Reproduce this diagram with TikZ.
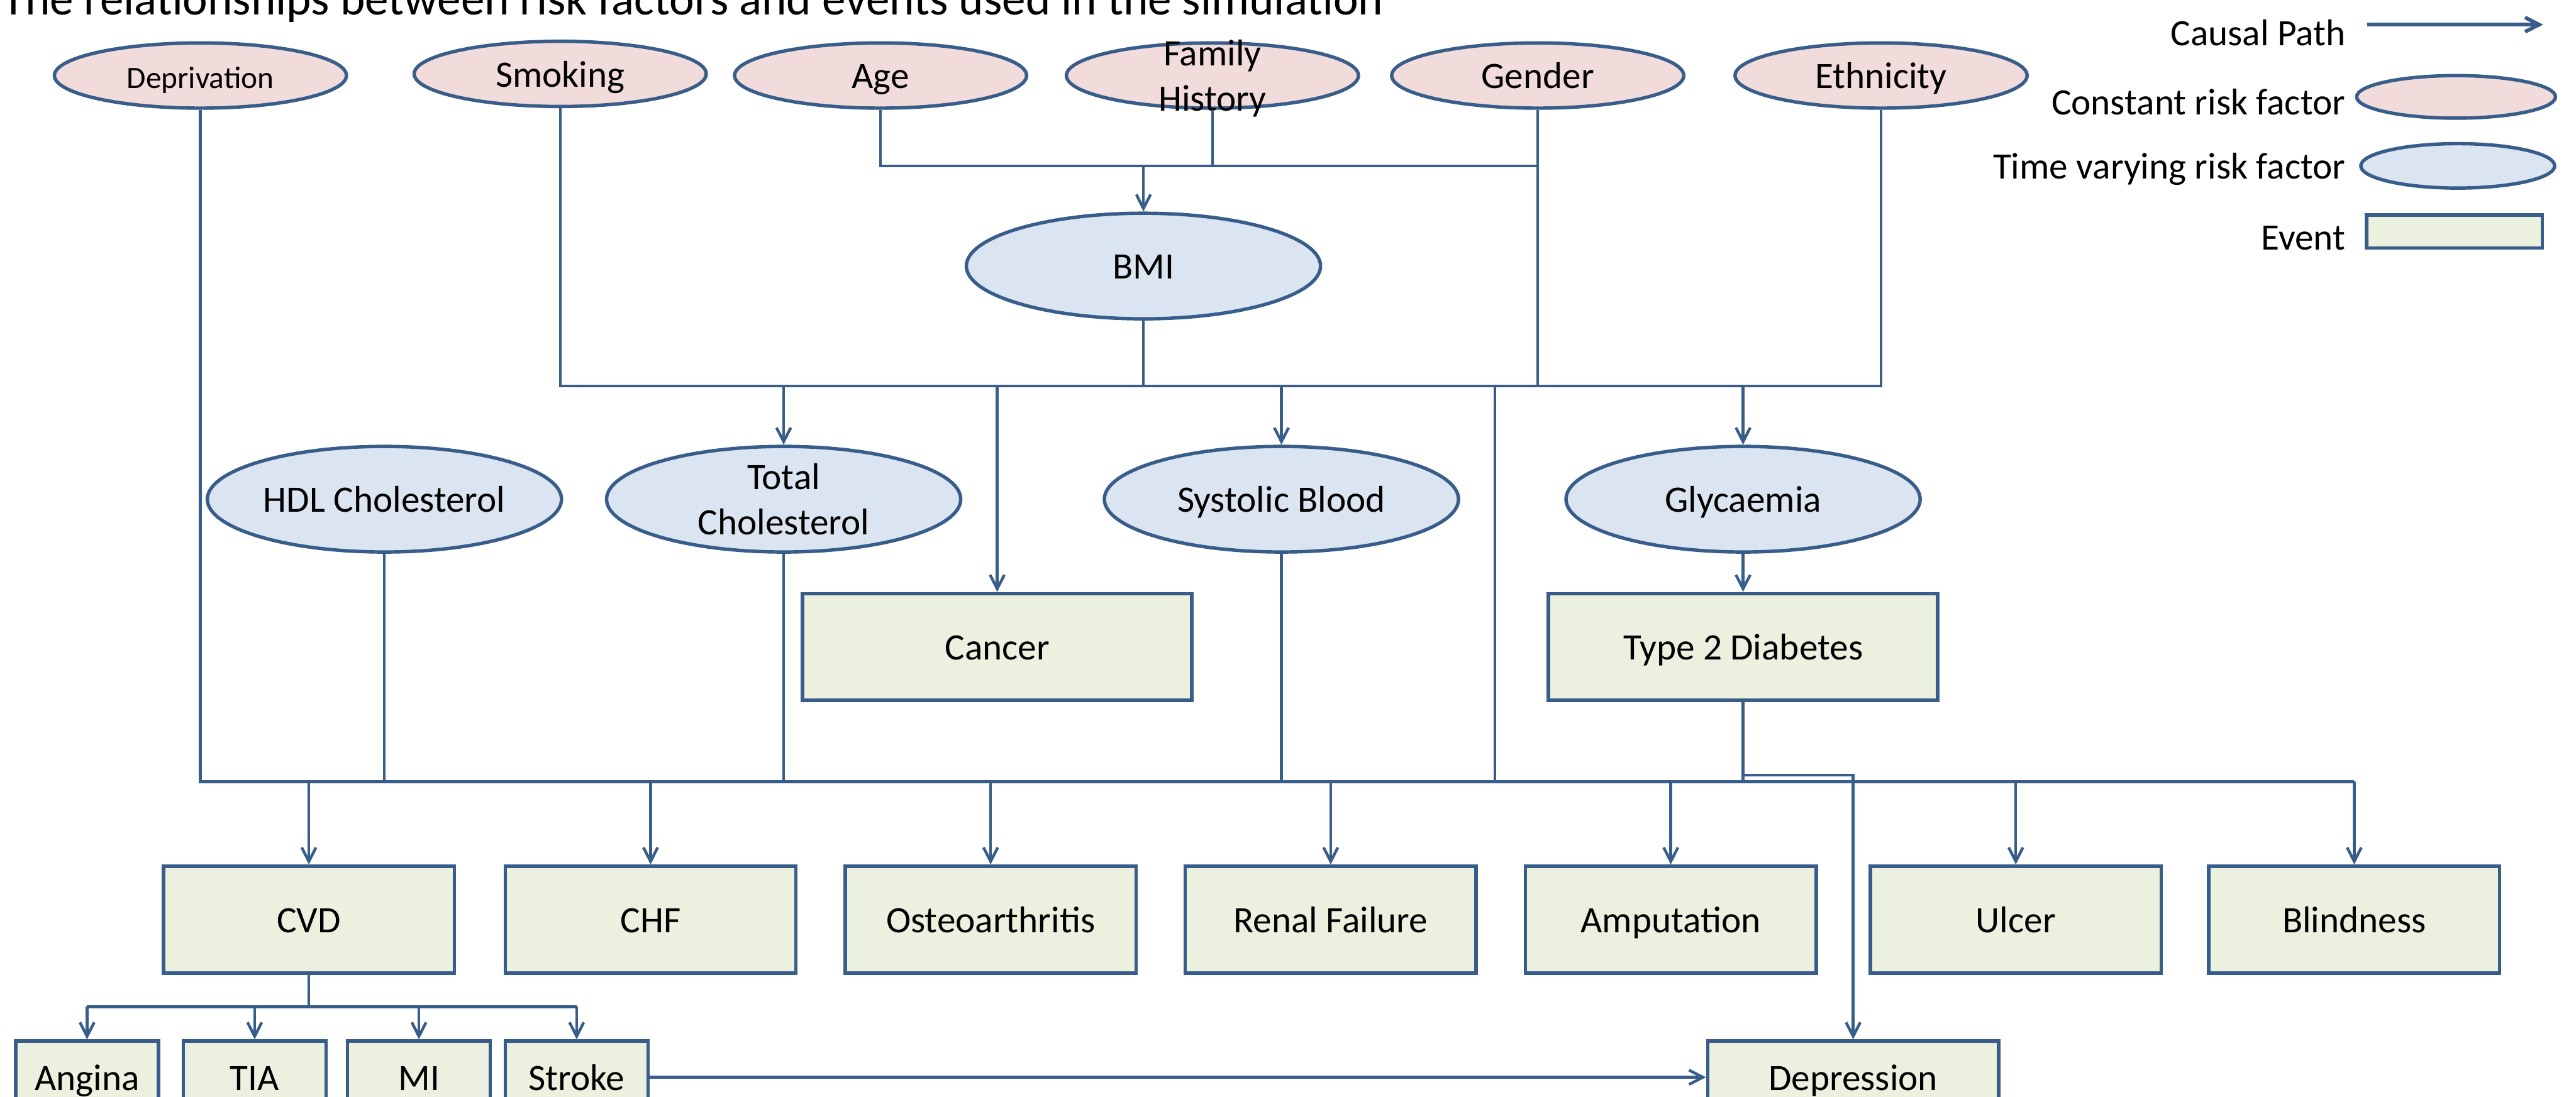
\documentclass[tikz,border=0pt]{standalone}
\usepackage{fontspec}
\setmainfont{Carlito}
\usetikzlibrary{shapes.geometric,arrows.meta}
\definecolor{edgeblue}{RGB}{56,93,138}
\definecolor{constfill}{RGB}{242,220,219}
\definecolor{varyfill}{RGB}{219,229,241}
\definecolor{eventfill}{RGB}{235,241,222}
\newcommand{\twoline}[2]{\smash{\begin{tabular}{@{}c@{}}#1\\#2\end{tabular}}}

\begin{document}
\begin{tikzpicture}[x=0.5288pt,y=-0.5288pt,
    font=\fontsize{12}{14.5}\selectfont,
    shapetext/.style={inner sep=0pt,text height=8.4pt,text depth=0pt},
    constant/.style={ellipse,draw=edgeblue,fill=constfill,line width=1.1pt,shapetext,minimum width=94pt,minimum height=21pt},
    varying/.style={ellipse,draw=edgeblue,fill=varyfill,line width=1.1pt,shapetext,minimum width=114pt,minimum height=34pt},
    event/.style={rectangle,draw=edgeblue,fill=eventfill,line width=1.1pt,shapetext,minimum width=93.6pt,minimum height=34.4pt},
    subevent/.style={event,minimum width=46pt,minimum height=23.3pt},
    link/.style={draw=edgeblue,line width=0.9pt},
    causal/.style={link,-{Straight Barb[length=4.5pt,width=4.6pt]}}]
    \useasboundingbox (0,0) rectangle (1568,668);
    % title
    \node[anchor=base west,inner sep=0pt,font=\fontsize{15.2}{18}\selectfont] (title) at (1,9) {The relationships between risk factors and events used in the simulation};
    % constant risk factors
    \node[constant,font=\fontsize{10}{12}\selectfont] (depriv) at (122,46) {Deprivation};
    \node[constant] (smoking) at (341,45) {Smoking};
    \node[constant] (age) at (536,46) {Age};
    \node[constant] (famhist) at (738,46) {\twoline{Family}{History}};
    \node[constant] (gender) at (936,46) {Gender};
    \node[constant] (ethnic) at (1145,46) {Ethnicity};
    % time varying risk factors
    \node[varying] (bmi) at (696,162) {BMI};
    \node[varying] (hdl) at (234,304) {HDL Cholesterol};
    \node[varying] (totchol) at (477,304) {\twoline{Total}{Cholesterol}};
    \node[varying] (sysbp) at (780,304) {Systolic Blood};
    \node[varying] (glyc) at (1061,304) {Glycaemia};
    % events
    \node[event,minimum width=125.3pt] (cancer) at (607,394) {Cancer};
    \node[event,minimum width=125.3pt] (diab) at (1061,394) {Type 2 Diabetes};
    \node[event] (cvd) at (188,560) {CVD};
    \node[event] (chf) at (396,560) {CHF};
    \node[event] (osteo) at (603,560) {Osteoarthritis};
    \node[event] (renal) at (810,560) {Renal Failure};
    \node[event] (amput) at (1017,560) {Amputation};
    \node[event] (ulcer) at (1227,560) {Ulcer};
    \node[event] (blind) at (1433,560) {Blindness};
    \node[subevent] (angina) at (53,656) {Angina};
    \node[subevent] (tia) at (155,656) {TIA};
    \node[subevent] (mi) at (255,656) {MI};
    \node[subevent] (stroke) at (351,656) {Stroke};
    \node[event,minimum height=23.3pt] (depress) at (1128,656) {Depression};
    % bus levels
    \coordinate (ybmi) at (0,101);
    \coordinate (ytop) at (0,235);
    \coordinate (ylow) at (0,476);
    \coordinate (ydep) at (0,472);
    \coordinate (ycvd) at (0,613);
    \coordinate (drop) at (910,235);
    % paths to BMI
    \draw[link] (age.south) |- (gender.south |- ybmi);
    \draw[link] (famhist.south) -- (famhist.south |- ybmi);
    \draw[causal] (bmi.north |- ybmi) -- (bmi.north);
    % paths to time varying factors
    \draw[link] (smoking.south) |- (ethnic.south |- ytop) -- (ethnic.south);
    \draw[link] (gender.south) -- (gender.south |- ytop);
    \draw[link] (bmi.south) -- (bmi.south |- ytop);
    \foreach \n in {totchol,cancer,sysbp,glyc}
        \draw[causal] (\n.north |- ytop) -- (\n.north);
    \draw[causal] (glyc.south) -- (diab.north);
    % paths to events
    \draw[link] (drop) -- (drop |- ylow);
    \draw[link] (depriv.south) |- (blind.north |- ylow);
    \foreach \n in {hdl,totchol,sysbp,diab}
        \draw[link] (\n.south) -- (\n.south |- ylow);
    \foreach \n in {cvd,chf,osteo,renal,amput,ulcer,blind}
        \draw[causal] (\n.north |- ylow) -- (\n.north);
    \draw[causal] (diab.south |- ydep) -| (depress.north);
    % CVD sub events
    \draw[link] (cvd.south) -- (cvd.south |- ycvd);
    \draw[link] (angina.north |- ycvd) -- (stroke.north |- ycvd);
    \foreach \n in {angina,tia,mi,stroke}
        \draw[causal] (\n.north |- ycvd) -- (\n.north);
    \draw[causal] (stroke) -- (depress);
    % legend
    \coordinate (lgstart) at (1441,15);
    \coordinate (lgend) at (1548,15);
    \node[anchor=east,inner sep=0pt] (lgpath) at (1428,20) {Causal Path};
    \draw[causal,line width=1.2pt] (lgstart) -- (lgend);
    \node[anchor=east,inner sep=0pt] (lgconst) at (1428,62) {Constant risk factor};
    \node[constant,minimum width=64pt,minimum height=13.7pt] (lgconstshape) at (1495,59) {};
    \node[anchor=east,inner sep=0pt] (lgvary) at (1428,103) {Time varying risk factor};
    \node[varying,minimum width=62.4pt,minimum height=14.3pt] (lgvaryshape) at (1496,101) {};
    \node[anchor=east,inner sep=0pt] (lgevent) at (1428,145) {Event};
    \node[event,minimum width=56.6pt,minimum height=10.6pt] (lgeventshape) at (1494,141) {};
\end{tikzpicture}
\end{document}
